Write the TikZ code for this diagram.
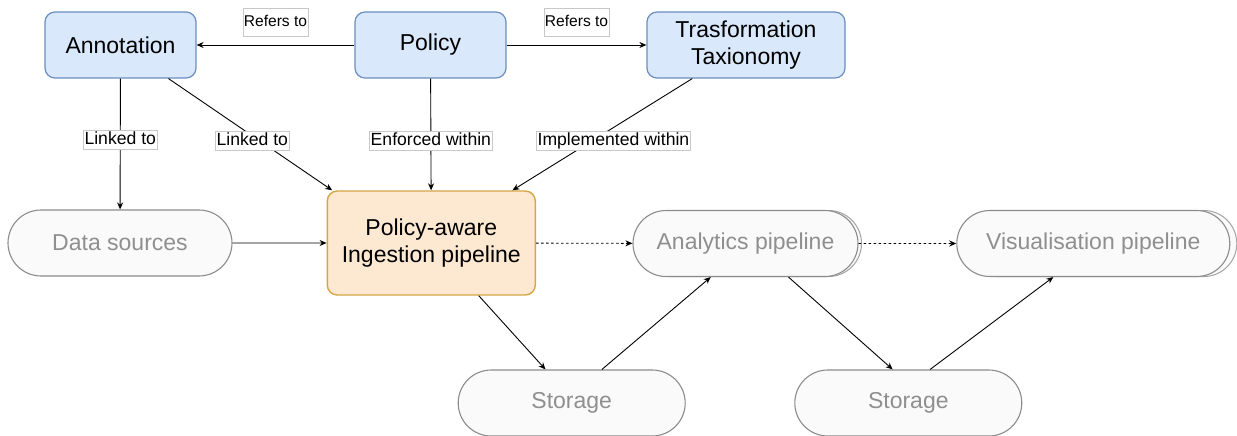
\documentclass[tikz,border=0pt]{standalone}
\usepackage{fontspec}
\setmainfont{Liberation Sans}
\usepackage{tikz}
\usetikzlibrary{arrows.meta,shapes.misc}
\definecolor{conceptfill}{HTML}{DAE8FC}
\definecolor{conceptline}{HTML}{6C8EBF}
\definecolor{ingestfill}{HTML}{FDE8D1}
\definecolor{ingestline}{HTML}{D6A545}
\definecolor{stagefill}{HTML}{FAFAFA}
\definecolor{stageline}{HTML}{8C8C8C}
\definecolor{stagetext}{HTML}{8F8F8F}
\definecolor{tagline}{HTML}{C8C8C8}
\newcommand*{\boxfont}{\fontsize{23}{27.5}\selectfont}
\newcommand*{\tagfont}{\fontsize{17.6}{20}\selectfont}
\newcommand*{\reffont}{\fontsize{15.6}{18}\selectfont}

\begin{document}
\begin{tikzpicture}[x=1pt, y=-1pt,
    concept/.style={draw=conceptline, fill=conceptfill, rounded corners=10pt,
      line width=1.2pt, minimum height=66pt, inner sep=0pt, font=\boxfont, align=center},
    ingestbox/.style={concept, draw=ingestline, fill=ingestfill, line width=1.4pt},
    stage/.style={rounded rectangle, draw=stageline, fill=stagefill, text=stagetext,
      line width=1.1pt, minimum height=66pt, inner sep=0pt, font=\boxfont},
    stacked/.style={preaction={draw=stageline!80, fill=stagefill, line width=1pt,
      transform canvas={xshift=#1}}},
    tag/.style={fill=white, draw=tagline, line width=0.6pt, inner xsep=1pt,
      inner ysep=0pt, text height=14pt, text depth=5pt, font=\tagfont},
    reftag/.style={tag, font=\reffont, inner ysep=6pt, text height=12pt, text depth=4pt},
    link/.style={-{Stealth[length=7pt,width=6pt]}, line width=0.9pt},
    flow/.style={link, dash pattern=on 2.5pt off 2.5pt}]
  \useasboundingbox (0,0) rectangle (1237,436);

  % top row
  \node[concept, minimum width=151pt] (annot) at (120.5,45) {Annotation};
  \node[concept, minimum width=151pt] (policy) at (430.5,45) {Policy};
  \node[concept, minimum width=198pt] (tax) at (746,45) {Trasformation\\Taxionomy};

  % pipeline
  \node[ingestbox, minimum width=208pt, minimum height=104pt] (ingest) at (431.3,243)
    {Policy-aware\\Ingestion pipeline};
  \foreach \n/\x/\y/\w/\t in {data/120/243/224/Data sources,
                             st1/571.7/403/227/Storage,
                             st2/908.3/403/227/Storage}
  {
    \node[stage, minimum width=\w pt] (\n) at (\x,\y) {\t};
  }
  \node[stage, stacked=3.5pt, minimum width=225pt] (analytics) at (745.5,243.5)
    {Analytics pipeline};
  \node[stage, stacked=7pt, minimum width=273pt] (vis) at (1093.3,243.5)
    {Visualisation pipeline};

  \draw[link] (policy) -- node[reftag, above=8pt] {Refers to} (annot);
  \draw[link] (policy) -- node[reftag, above=8pt] {Refers to} (tax);
  \draw[link] (annot) -- node[tag, pos=.47] {Linked to} (data);
  \draw[link] (annot.-35) -- node[tag, pos=.555, xshift=-7pt] {Linked to} (ingest.152);
  \draw[link] (policy) -- node[tag, pos=.555] {Enforced within} (ingest);
  \draw[link] (tax.-148) -- node[tag, pos=.555, xshift=21pt] {Implemented within} (ingest.33);
  \draw[link] (data) -- (ingest);
  \draw[flow] (ingest) -- (analytics);
  \draw[flow] (analytics) -- (vis);
  \draw[link] (ingest.-48) -- (st1.128);
  \draw[link] (st1.48) -- (analytics.-136);
  \draw[link] (analytics.-38) -- (st2.115);
  \draw[link] (st2.57) -- (vis.-140);
\end{tikzpicture}
\end{document}
